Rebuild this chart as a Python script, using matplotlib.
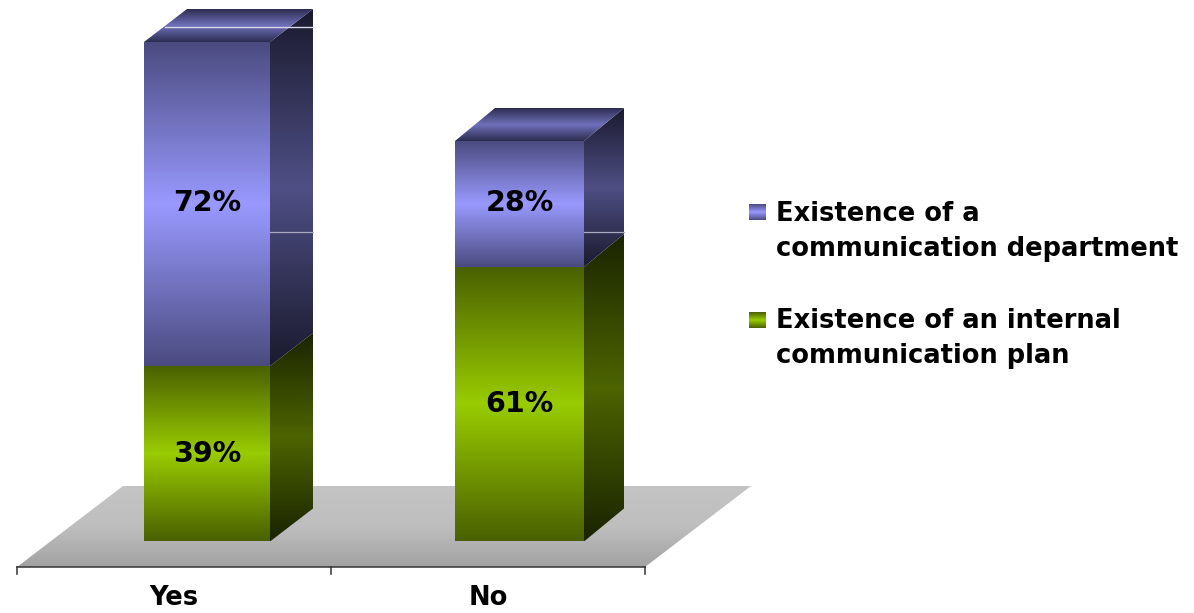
import numpy as np
import matplotlib
matplotlib.use("Agg")
import matplotlib.pyplot as plt
from matplotlib.colors import LinearSegmentedColormap
from matplotlib.patches import Polygon

categories = ["Yes", "No"]
plan = [39, 61]
department = [72, 28]
legend_labels = ["Existence of a\ncommunication department",
                 "Existence of an internal\ncommunication plan"]

W, H = 1194, 613
PX_X = 314.0   # pixels per category
PX_Y = 4.5     # pixels per percent
X0, Y0 = 174.0, 541.5   # pixel of category 0 / value 0

plt.rcParams['font.family'] = ['DejaVu Sans']

fig = plt.figure(figsize=(W / 100, H / 100), dpi=100, facecolor='white')
ax = fig.add_axes([0, 0, 1, 1])
ax.set_xlim(-X0 / PX_X, (W - X0) / PX_X)
ax.set_ylim((Y0 - H) / PX_Y, Y0 / PX_Y)
ax.axis('off')


def cmap3(edge, mid):
    return LinearSegmentedColormap.from_list('g', [edge, mid, edge])


def grad_poly(points, cmap, z=2):
    points = np.array(points)
    poly = Polygon(points, closed=True, fc='none', ec='none', transform=ax.transData)
    ax.add_patch(poly)
    grad = np.linspace(0, 1, 256).reshape(-1, 1)
    im = ax.imshow(grad, cmap=cmap, aspect='auto', zorder=z, interpolation='bilinear',
                   extent=[points[:, 0].min(), points[:, 0].max(),
                           points[:, 1].min(), points[:, 1].max()], origin='upper')
    im.set_clip_path(poly)
    return im


def px(x, y):
    return (x - X0) / PX_X, (Y0 - y) / PX_Y


# floor
floor = [px(17, 567), px(123, 486), px(751, 486), px(645, 567)]
grad_poly(floor, LinearSegmentedColormap.from_list('f', ['#c4c4c4', '#bebebe', '#a2a2a2']), z=1)

# bars
bar_w = [126 / PX_X, 129 / PX_X]
bar_off = [-30 / PX_X, -33 / PX_X]
depth_x = [43 / PX_X, 40 / PX_X]
dy = 33 / PX_Y
purple = (cmap3('#4b4b80', '#9999ff'), cmap3('#1a1a2e', '#4f4f85'), cmap3('#2c2c50', '#7070bb'))
green = (cmap3('#4a6000', '#99cc00'), cmap3('#1a2400', '#4d6400'), cmap3('#2c3a00', '#7a9a00'))

for i in range(len(categories)):
    left = i + bar_off[i]
    right = left + bar_w[i]
    dx = depth_x[i]
    # green part, then purple on top
    for bottom, top, cols in [(0, plan[i], green), (plan[i], plan[i] + department[i], purple)]:
        grad_poly([(right, bottom), (right + dx, bottom + dy), (right + dx, top + dy), (right, top)], cols[1], z=3)
        grad_poly([(left, bottom), (right, bottom), (right, top), (left, top)], cols[0], z=4)
    top = plan[i] + department[i]
    grad_poly([(left, top), (right, top), (right + dx, top + dy), (left + dx, top + dy)], purple[2], z=4)
    # thin light line on the side wall
    ly = px(0, 232)[1]
    ax.plot([right, right + dx], [ly, ly], color='#a9a9c4', lw=0.9, zorder=5)
    ax.text(left + bar_w[i] / 2, plan[i] / 2, f"{plan[i]}%", ha='center', va='center',
            fontsize=20.5, fontweight='bold', color='black', zorder=6)
    ax.text(left + bar_w[i] / 2, plan[i] + department[i] / 2 + 0.2, f"{department[i]}%", ha='center', va='center',
            fontsize=20.5, fontweight='bold', color='black', zorder=6)

# light line across the top of the tall bar
x1, yl = px(165, 27)
x2, _ = px(313, 27)
ax.plot([x1, x2], [yl, yl], color='#d8d8ec', lw=1.0, zorder=5)

# category axis
y_axis = px(0, 567)[1]
y_tick = px(0, 574)[1]
ax.plot([-0.5, 1.5], [y_axis, y_axis], color='#333333', lw=1.1, zorder=5)
for t in [-0.5, 0.5, 1.5]:
    ax.plot([t, t], [y_axis, y_tick], color='#333333', lw=1.1, zorder=5)
for i, c in enumerate(categories):
    ax.text(i, px(0, 598)[1], c, ha='center', va='center', fontsize=18.5, fontweight='bold', color='black')

# legend
swatches = [(749, 204, purple[0]), (749, 312, green[0])]
text_y = [231.5, 338.5]
for (sx, sy, cm), lab, ty in zip(swatches, legend_labels, text_y):
    grad_poly([px(sx, sy), px(sx + 17, sy), px(sx + 17, sy + 16), px(sx, sy + 16)], cm, z=3)
    tx, tyy = px(776, ty)
    ax.text(tx, tyy, lab, ha='left', va='center', fontsize=18.5, fontweight='bold',
            color='black', linespacing=1.43)

ax.set_xlim(-X0 / PX_X, (W - X0) / PX_X)
ax.set_ylim((Y0 - H) / PX_Y, Y0 / PX_Y)
fig.savefig('out.png', dpi=100)
